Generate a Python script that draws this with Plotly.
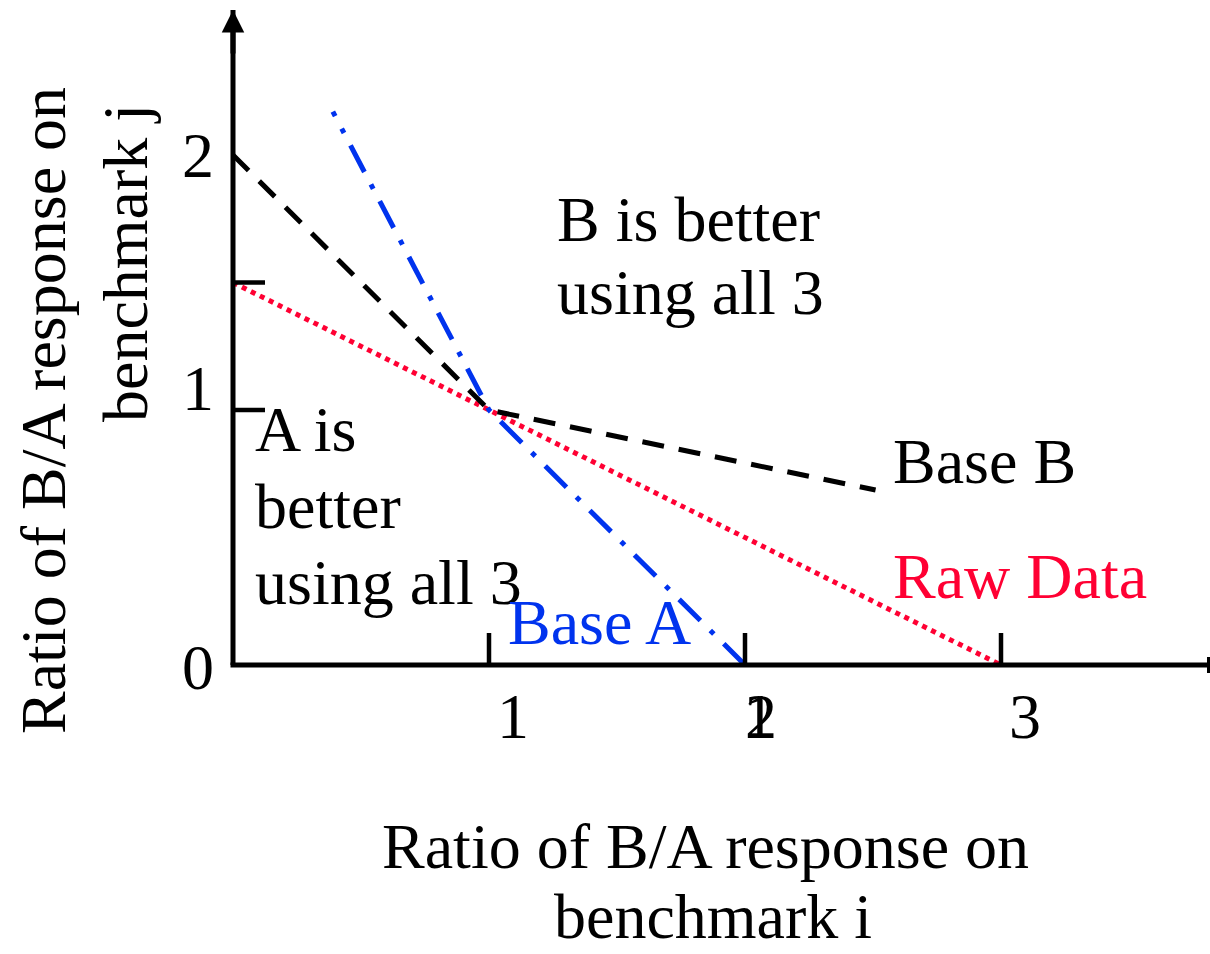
import plotly.graph_objects as go

# ---------------- data ----------------
base_b_x = [0.0, 1.0, 2.51]
base_b_y = [2.0, 1.0, 0.686]

base_a_x = [2.0, 1.0, 0.39]
base_a_y = [0.0, 1.0, 2.17]

raw_x = [0.0, 3.0]
raw_y = [1.5, 0.0]

x_tick_vals = [1, 2, 3]
x_tick_text = ["1", "2", "3"]
x_extra_vals = [2]          # stray overlapping label in the original
x_extra_text = ["1"]

y_tick_vals = [0, 1, 2]
y_tick_text = ["0", "1", "2"]
y_tick_marks = [1, 1.5]

# ---------------- layout geometry ----------------
W, H = 1210, 954
X0PX, XS = 233, 256.0      # pixel of x=0, pixels per unit
Y0PX, YS = 665, 255.0      # pixel of y=0, pixels per unit
L, R, T, B = 181, 1210, 10, 705   # plot area in pixels
x_range = [(L - X0PX) / XS, (R - X0PX) / XS]
y_range = [(Y0PX - B) / YS, (Y0PX - T) / YS]


def px(xp):
    return (xp - L) / (R - L)


def py(yp):
    return (B - yp) / (B - T)


FONT = "Liberation Serif, Times New Roman, serif"
FS = 64
BLACK = "#000000"
BLUE = "#0033EE"
RED = "#FF0033"

fig = go.Figure()

fig.add_trace(go.Scatter(x=raw_x, y=raw_y, mode="lines",
                         line=dict(color=RED, width=5, dash="5px,5px"),
                         hoverinfo="skip", showlegend=False))
fig.add_trace(go.Scatter(x=base_b_x, y=base_b_y, mode="lines",
                         line=dict(color=BLACK, width=5, dash="22px,15px"),
                         hoverinfo="skip", showlegend=False))
fig.add_trace(go.Scatter(x=base_a_x, y=base_a_y, mode="lines",
                         line=dict(color=BLUE, width=5, dash="30px,14px,5px,14px"),
                         hoverinfo="skip", showlegend=False))

shapes = []
# axis lines
shapes.append(dict(type="line", xref="x", yref="y", x0=0, y0=0, x1=0, y1=y_range[1],
                   line=dict(color=BLACK, width=5)))
shapes.append(dict(type="line", xref="x", yref="y", x0=-2.5 / XS, y0=0, x1=x_range[1], y1=0,
                   line=dict(color=BLACK, width=5)))
# cut-off arrowhead base at the right end of the x axis
shapes.append(dict(type="line", xref="paper", yref="y", x0=px(1208.5), x1=px(1208.5),
                   y0=-8 / YS, y1=8 / YS, line=dict(color=BLACK, width=3)))
# tick marks
for v in x_tick_vals:
    shapes.append(dict(type="line", xref="x", yref="y", x0=v, y0=0, x1=v, y1=32 / YS,
                       line=dict(color=BLACK, width=4.5)))
for v in y_tick_marks:
    shapes.append(dict(type="line", xref="x", yref="y", x0=0, y0=v, x1=32 / XS, y1=v,
                       line=dict(color=BLACK, width=4.5)))

ann = []
# arrowhead on the y axis
ann.append(dict(xref="x", yref="paper", x=0, y=1, axref="pixel", ayref="pixel",
                ax=0, ay=45, text="", showarrow=True, arrowhead=2, arrowsize=0.9,
                arrowwidth=5, arrowcolor=BLACK, standoff=0))

# tick labels
for v, t in zip(x_tick_vals, x_tick_text):
    ann.append(dict(xref="x", yref="paper", x=v, y=py(716), xshift=16 if v == 2 else 24,
                    text=t, showarrow=False, xanchor="center", yanchor="middle",
                    font=dict(family=FONT, size=FS, color=BLACK)))
for v, t in zip(x_extra_vals, x_extra_text):
    ann.append(dict(xref="x", yref="paper", x=v, y=py(716), xshift=14,
                    text=t, showarrow=False, xanchor="center", yanchor="middle",
                    font=dict(family=FONT, size=FS, color=BLACK)))
y_label_shift = {0: -2, 1: 22, 2: 0}
for v, t in zip(y_tick_vals, y_tick_text):
    ann.append(dict(xref="paper", yref="y", x=px(198), y=v, yshift=y_label_shift[v],
                    text=t, showarrow=False, xanchor="center", yanchor="middle",
                    font=dict(family=FONT, size=FS, color=BLACK)))


def text_line(t, xp, yp, color=BLACK, anchor="left", angle=0):
    ann.append(dict(xref="paper", yref="paper", x=px(xp), y=py(yp), text=t,
                    showarrow=False, xanchor=anchor, yanchor="middle", textangle=angle,
                    font=dict(family=FONT, size=FS, color=color)))


text_line("B is better", 555, 219)
text_line("using all 3", 555, 292)
text_line("A is", 253, 429)
text_line("better", 253, 506)
text_line("using all 3", 253, 582)
text_line("Base B", 891, 461)
text_line("Raw Data", 891, 576, color=RED)
text_line("Base A", 506, 622, color=BLUE)

# axis titles
text_line("Ratio of B/A response on", 705, 846, anchor="center")
text_line("benchmark i", 713, 916, anchor="center")
text_line("Ratio of B/A response on", 43, 411, anchor="center", angle=-90)
text_line("benchmark j", 125, 263, anchor="center", angle=-90)

fig.update_layout(
    width=W, height=H,
    margin=dict(l=L, r=W - R, t=T, b=H - B, pad=0),
    paper_bgcolor="white", plot_bgcolor="white",
    xaxis=dict(range=x_range, visible=False, fixedrange=True),
    yaxis=dict(range=y_range, visible=False, fixedrange=True),
    shapes=shapes, annotations=ann, showlegend=False,
)

fig.write_html("out.html", config={"displayModeBar": False},
               post_script="document.body.style.margin='0px';")
